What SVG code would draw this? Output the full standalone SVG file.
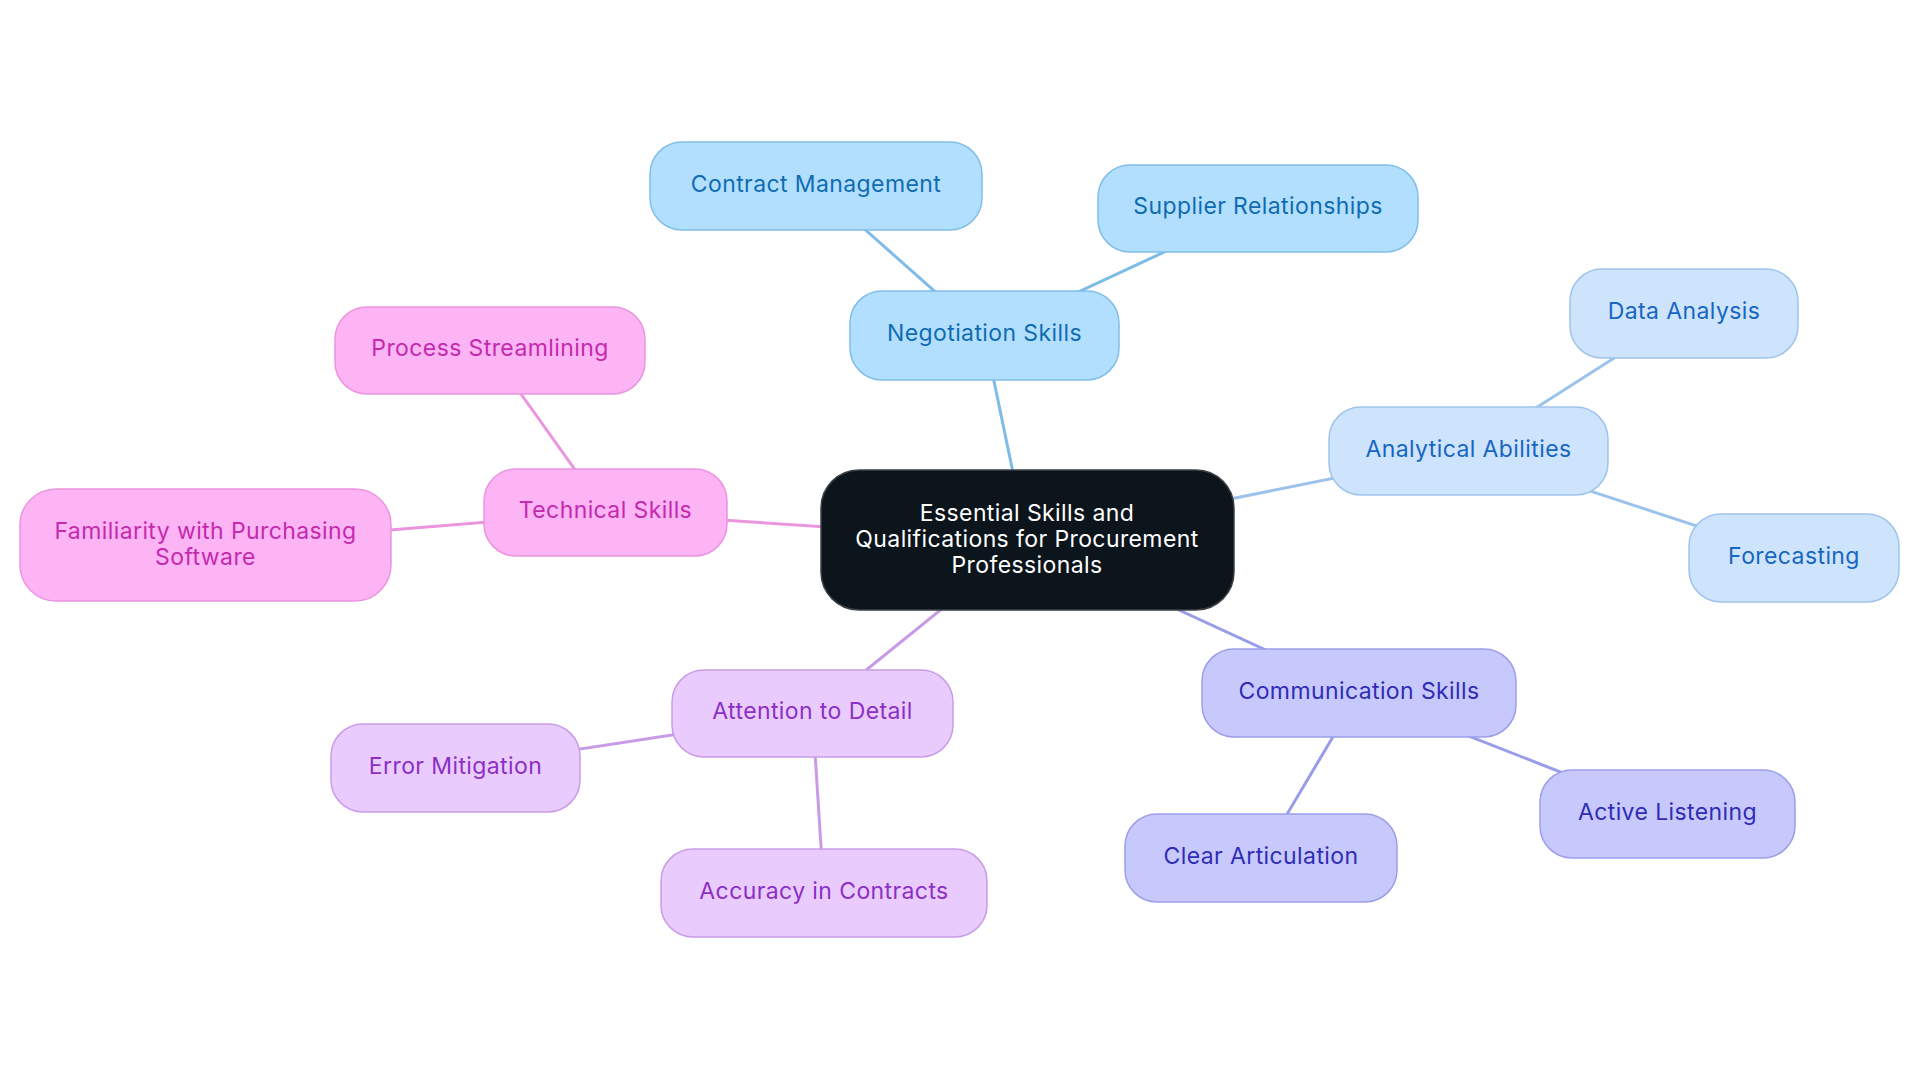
<svg xmlns="http://www.w3.org/2000/svg" width="1920" height="1083" viewBox="0 0 1920 1083">
<style>
text{font-family:Inter,"Open Sans","Liberation Sans",sans-serif;font-size:23px;letter-spacing:0.4px;text-anchor:middle}
.c line{stroke-width:3;fill:none}
.nb rect{fill:#b3dffe;stroke:#80bfe9;stroke-width:1.5}
.nb text{fill:#0f6cb2}
.na rect{fill:#cde4fc;stroke:#9fc4ec;stroke-width:1.5}
.na text{fill:#1766c2}
.nc rect{fill:#c7c9fd;stroke:#9c9ee9;stroke-width:1.5}
.nc text{fill:#302cb6}
.nd rect{fill:#eacbfd;stroke:#c99ce9;stroke-width:1.5}
.nd text{fill:#8b2fc6}
.nt rect{fill:#fdb4f4;stroke:#eb94df;stroke-width:1.5}
.nt text{fill:#c42aae}
.root rect{fill:#0c141c;stroke:#3c4148;stroke-width:1.5}
.root text{fill:#ffffff}
</style>
<rect width="1920" height="1083" fill="#ffffff"/>
<g id="connectors" class="c">
<line x1="1027" y1="540" x2="984.5" y2="335.5" stroke="#7dbce7"/>
<line x1="984.5" y1="335.5" x2="816" y2="186" stroke="#7dbce7"/>
<line x1="984.5" y1="335.5" x2="1258" y2="208.5" stroke="#7dbce7"/>
<line x1="1027" y1="540" x2="1468.5" y2="451" stroke="#9cc3ec"/>
<line x1="1468.5" y1="451" x2="1684" y2="313.5" stroke="#9cc3ec"/>
<line x1="1468.5" y1="451" x2="1794" y2="558" stroke="#9cc3ec"/>
<line x1="1027" y1="540" x2="1359" y2="693" stroke="#999ce8"/>
<line x1="1359" y1="693" x2="1667.5" y2="814" stroke="#999ce8"/>
<line x1="1359" y1="693" x2="1261" y2="858" stroke="#999ce8"/>
<line x1="1027" y1="540" x2="812.5" y2="713.5" stroke="#c99be7"/>
<line x1="812.5" y1="713.5" x2="455.5" y2="768" stroke="#c99be7"/>
<line x1="812.5" y1="713.5" x2="824" y2="893" stroke="#c99be7"/>
<line x1="1027" y1="540" x2="605.5" y2="512.5" stroke="#ea95dd"/>
<line x1="605.5" y1="512.5" x2="490" y2="350.5" stroke="#ea95dd"/>
<line x1="605.5" y1="512.5" x2="205.5" y2="545" stroke="#ea95dd"/>
</g>
<g id="root" class="root"><rect x="821" y="470" width="413" height="140" rx="38"/><text x="1027" y="521">Essential Skills and</text><text x="1027" y="547">Qualifications for Procurement</text><text x="1027" y="573">Professionals</text></g>
<g id="negotiation" class="nb"><rect x="850" y="291" width="269" height="89" rx="32"/><text x="984.5" y="341">Negotiation Skills</text></g>
<g id="contract" class="nb"><rect x="650" y="142" width="332" height="88" rx="32"/><text x="816" y="192">Contract Management</text></g>
<g id="supplier" class="nb"><rect x="1098" y="165" width="320" height="87" rx="32"/><text x="1258" y="214">Supplier Relationships</text></g>
<g id="analytical" class="na"><rect x="1329" y="407" width="279" height="88" rx="32"/><text x="1468.5" y="457">Analytical Abilities</text></g>
<g id="data" class="na"><rect x="1570" y="269" width="228" height="89" rx="32"/><text x="1684" y="319">Data Analysis</text></g>
<g id="forecasting" class="na"><rect x="1689" y="514" width="210" height="88" rx="32"/><text x="1794" y="564">Forecasting</text></g>
<g id="communication" class="nc"><rect x="1202" y="649" width="314" height="88" rx="32"/><text x="1359" y="699">Communication Skills</text></g>
<g id="active" class="nc"><rect x="1540" y="770" width="255" height="88" rx="32"/><text x="1667.5" y="820">Active Listening</text></g>
<g id="clear" class="nc"><rect x="1125" y="814" width="272" height="88" rx="32"/><text x="1261" y="864">Clear Articulation</text></g>
<g id="attention" class="nd"><rect x="672" y="670" width="281" height="87" rx="32"/><text x="812.5" y="719">Attention to Detail</text></g>
<g id="error" class="nd"><rect x="331" y="724" width="249" height="88" rx="32"/><text x="455.5" y="774">Error Mitigation</text></g>
<g id="accuracy" class="nd"><rect x="661" y="849" width="326" height="88" rx="32"/><text x="824" y="899">Accuracy in Contracts</text></g>
<g id="technical" class="nt"><rect x="484" y="469" width="243" height="87" rx="32"/><text x="605.5" y="518">Technical Skills</text></g>
<g id="process" class="nt"><rect x="335" y="307" width="310" height="87" rx="32"/><text x="490" y="356">Process Streamlining</text></g>
<g id="familiarity" class="nt"><rect x="20" y="489" width="371" height="112" rx="36"/><text x="205.5" y="539">Familiarity with Purchasing</text><text x="205.5" y="565">Software</text></g>
</svg>
